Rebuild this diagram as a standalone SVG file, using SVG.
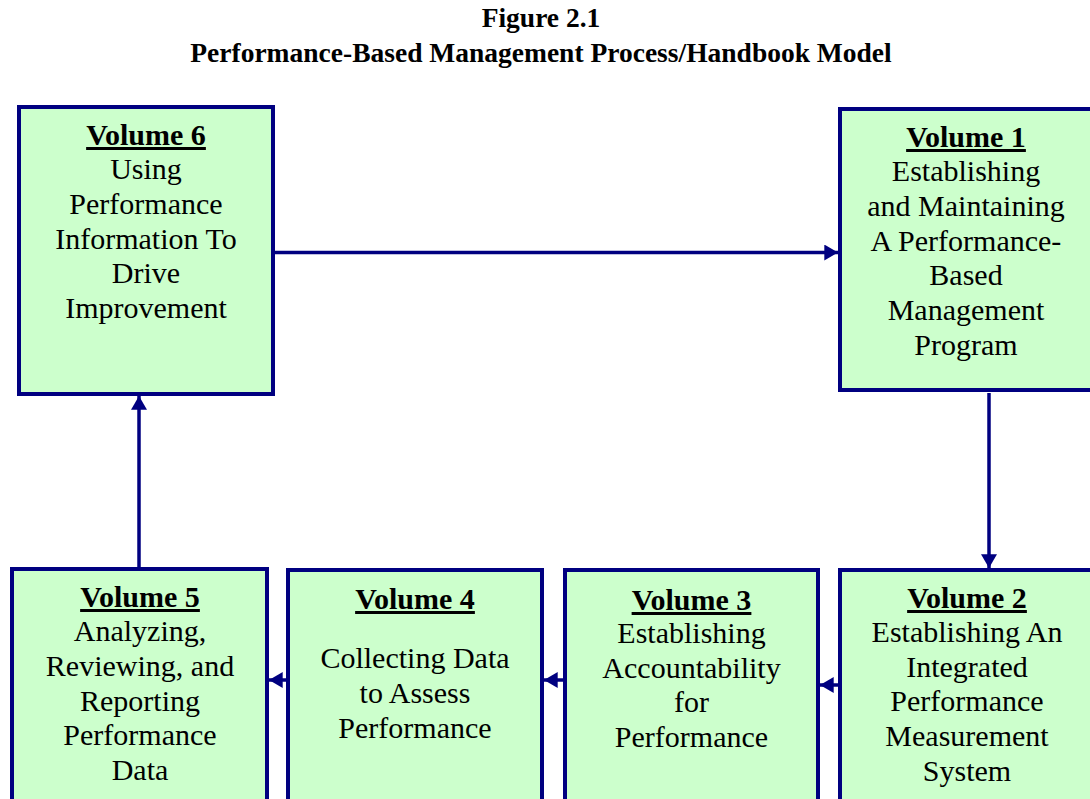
<svg xmlns="http://www.w3.org/2000/svg" width="1090" height="799" viewBox="0 0 1090 799">
<style>
.box{fill:#CCFFCC;stroke:#000080;stroke-width:4}
.t{font-family:"Liberation Serif","Times New Roman",serif;font-size:30px;fill:#000;text-anchor:middle}
.h{font-weight:bold;text-decoration:underline}
.title{font-family:"Liberation Serif","Times New Roman",serif;font-size:27.5px;font-weight:bold;fill:#000;text-anchor:middle}
.c{stroke:#000080;stroke-width:3.5;fill:none;marker-end:url(#ah)}
</style>
<defs>
<marker id="ah" markerUnits="userSpaceOnUse" markerWidth="14" markerHeight="16" viewBox="0 0 12 14" refX="12" refY="7" orient="auto">
<path d="M0,0 L12,7 L0,14 Z" fill="#000080"/>
</marker>
</defs>
<rect width="1090" height="799" fill="#fff"/>
<g id="title">
<text class="title" x="541" y="27">Figure 2.1</text>
<text class="title" x="541" y="62">Performance-Based Management Process/Handbook Model</text>
</g>
<g id="connectors">
<line class="c" x1="275" y1="252.5" x2="838" y2="252.5"/>
<line class="c" x1="989" y1="393" x2="989" y2="568"/>
<line class="c" x1="840" y1="685" x2="820" y2="685"/>
<line class="c" x1="565" y1="680" x2="544" y2="680"/>
<line class="c" x1="288" y1="680" x2="269" y2="680"/>
<line class="c" x1="139" y1="567" x2="139" y2="396"/>
</g>
<g id="vol6">
<rect class="box" x="19" y="107" width="254" height="287"/>
<text class="t h" x="146" y="145">Volume 6</text>
<text class="t" x="146" y="179">Using</text>
<text class="t" x="146" y="214">Performance</text>
<text class="t" x="146" y="249">Information To</text>
<text class="t" x="146" y="283">Drive</text>
<text class="t" x="146" y="318">Improvement</text>
</g>
<g id="vol1">
<rect class="box" x="840" y="109" width="252" height="281"/>
<text class="t h" x="966" y="147">Volume 1</text>
<text class="t" x="966" y="181">Establishing</text>
<text class="t" x="966" y="216">and Maintaining</text>
<text class="t" x="966" y="251">A Performance-</text>
<text class="t" x="966" y="285">Based</text>
<text class="t" x="966" y="320">Management</text>
<text class="t" x="966" y="355">Program</text>
</g>
<g id="vol2">
<rect class="box" x="840" y="570" width="252" height="250"/>
<text class="t h" x="967" y="608">Volume 2</text>
<text class="t" x="967" y="642">Establishing An</text>
<text class="t" x="967" y="677">Integrated</text>
<text class="t" x="967" y="711">Performance</text>
<text class="t" x="967" y="746">Measurement</text>
<text class="t" x="967" y="781">System</text>
</g>
<g id="vol3">
<rect class="box" x="565" y="570" width="253" height="250"/>
<text class="t h" x="691.5" y="610">Volume 3</text>
<text class="t" x="691.5" y="643">Establishing</text>
<text class="t" x="691.5" y="678">Accountability</text>
<text class="t" x="691.5" y="712">for</text>
<text class="t" x="691.5" y="747">Performance</text>
</g>
<g id="vol4">
<rect class="box" x="288" y="570" width="254" height="250"/>
<text class="t h" x="415" y="609">Volume 4</text>
<text class="t" x="415" y="668">Collecting Data</text>
<text class="t" x="415" y="703">to Assess</text>
<text class="t" x="415" y="738">Performance</text>
</g>
<g id="vol5">
<rect class="box" x="12" y="569" width="255" height="250"/>
<text class="t h" x="140" y="607">Volume 5</text>
<text class="t" x="140" y="641">Analyzing,</text>
<text class="t" x="140" y="676">Reviewing, and</text>
<text class="t" x="140" y="711">Reporting</text>
<text class="t" x="140" y="745">Performance</text>
<text class="t" x="140" y="780">Data</text>
</g>
</svg>
